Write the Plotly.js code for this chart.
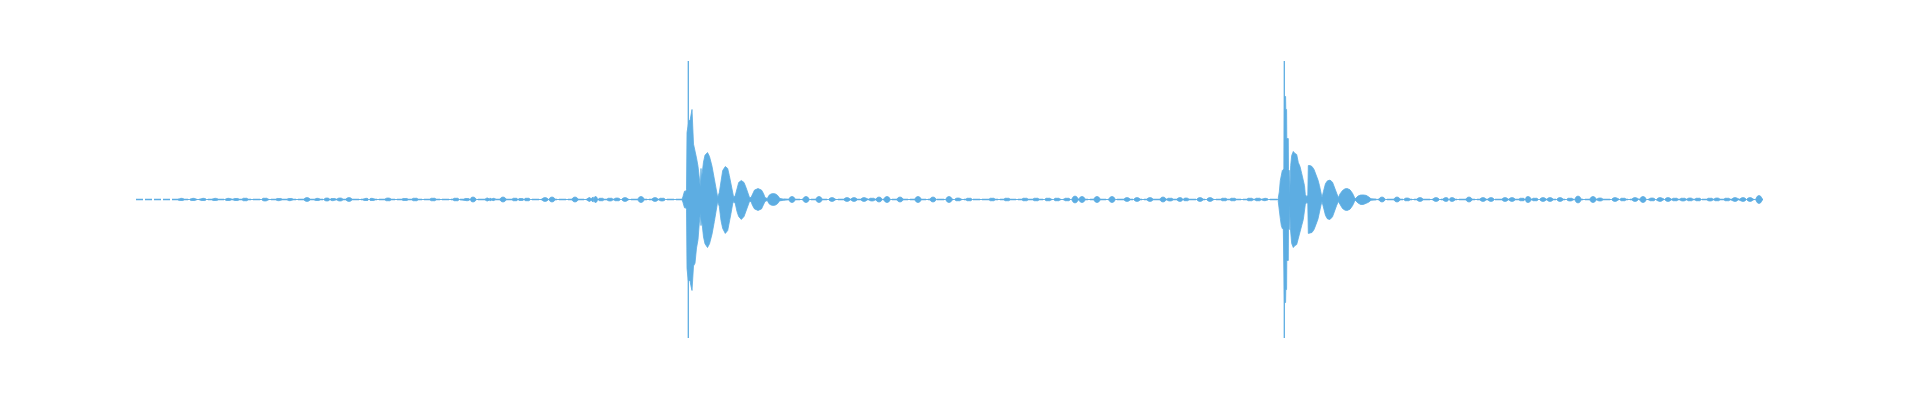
<!DOCTYPE html>
<html>
<head>
<meta charset="utf-8">
<script src="https://cdn.plot.ly/plotly-3.0.1.min.js"></script>
<style>html,body{margin:0;padding:0;background:#fff;}#chart{width:1920px;height:400px;}</style>
</head>
<body>
<div id="chart"></div>
<script>
// Time axis in frames (0 .. clipFrames), amplitude normalised to full scale = 1
const clipFrames = 1627;

// Burst 1 envelope
const burst1Frame = [546, 547, 548.5, 549.7, 550.5, 551, 552.3, 553, 554, 554.8, 556, 557.5, 559, 560.5, 562, 563.3, 564.3, 565, 565.6, 566, 567.5, 569, 571.5, 573.5, 576, 578.3, 580.7, 581.7, 583.3, 585, 586.7, 589.3, 591.7, 593.3, 595, 596.7, 597.7, 599.3, 601, 602.7, 605.3, 608, 610, 612, 613.5, 615, 616.5, 618.5, 622, 625.5, 627.5, 629, 631.3, 633, 635, 637.3, 639.5, 641.5, 643.5, 645];
const burst1Upper = [0, .022, .06, .06, .07, .484, .57, .57, .57, .62, .65, .40, .36, .30, .24, .14, .09, .224, .14, .18, .27, .32, .339, .31, .24, .15, .05, .015, .05, .152, .209, .238, .224, .173, .10, .03, .015, .03, .087, .123, .137, .123, .087, .04, .014, .014, .043, .068, .079, .068, .043, .014, .007, .03, .04, .043, .04, .03, .01, .005];
const burst1Lower = [0, .022, .06, .06, .07, .498, .585, .585, .585, .62, .657, .48, .46, .35, .29, .17, .10, .188, .14, .18, .27, .32, .347, .32, .25, .16, .05, .015, .05, .152, .209, .245, .224, .173, .10, .03, .015, .03, .087, .123, .144, .123, .087, .04, .014, .014, .043, .068, .079, .068, .043, .014, .007, .03, .04, .043, .04, .03, .01, .005];

// Burst 2 envelope
const burst2Frame = [1142, 1143.3, 1144.3, 1145.3, 1146.3, 1147.3, 1148, 1148.5, 1149.6, 1149.8, 1150.6, 1150.8, 1152.3, 1152.5, 1153.3, 1153.7, 1154.3, 1154.7, 1155.7, 1157.3, 1159, 1160.7, 1162.3, 1164, 1165.7, 1167.3, 1168.5, 1169.3, 1170.7, 1171.8, 1172.3, 1174, 1176, 1178, 1180, 1182, 1183.5, 1185, 1186, 1187.5, 1189.5, 1191.5, 1194, 1196.5, 1198.5, 1200.5, 1202.3, 1204, 1206.5, 1209, 1211.3, 1214, 1216.5, 1218.5, 1219.5, 1222, 1224.5, 1227.3, 1230, 1232.5, 1235];
const burst2Upper = [0, .055, .137, .188, .209, .217, .217, .744, .744, .65, .65, .44, .44, .217, .209, .036, .20, .245, .318, .347, .332, .325, .267, .238, .188, .144, .10, .036, .022, .03, .245, .245, .238, .217, .18, .14, .10, .04, .014, .06, .115, .135, .14, .125, .09, .045, .014, .04, .065, .077, .079, .07, .045, .015, .007, .025, .032, .033, .03, .02, .005];
const burst2Lower = [0, .055, .137, .188, .209, .217, .217, .744, .744, .65, .65, .44, .44, .217, .217, .036, .20, .245, .318, .347, .332, .325, .267, .238, .188, .144, .10, .036, .022, .03, .245, .245, .238, .217, .18, .14, .10, .04, .014, .06, .115, .14, .144, .125, .09, .045, .014, .04, .065, .077, .079, .07, .045, .015, .007, .025, .036, .036, .03, .02, .005];

// Transient spikes
const spikeFrame = [552.3, 1148.3];
const spikeAmp = [1.0, 1.0];

// Small bursts of low-level noise in the quiet stretches
const bumpFrame = [45, 57, 67, 79, 92, 100, 109, 129, 143, 154, 171, 181, 191, 197, 204, 213, 230, 236, 252, 269, 279, 297, 320, 331, 337, 352, 357, 367, 379, 385, 391, 409, 416, 439, 454, 459, 465, 474, 481, 489, 505, 519, 526,
  656, 670, 683, 696, 711, 718, 728, 736, 743, 751, 764, 782, 797, 813, 822, 833, 856, 871, 889, 900, 912, 921, 931, 939, 946, 961, 976, 991, 1001, 1014, 1027, 1034, 1044, 1050, 1064, 1074, 1088, 1097, 1114, 1122, 1129,
  1246, 1261, 1271, 1284, 1300, 1310, 1316, 1333, 1347, 1355, 1369, 1376, 1386, 1392, 1399, 1407, 1414, 1424, 1434, 1442, 1457, 1464, 1479, 1487, 1499, 1507, 1516, 1524, 1532, 1539, 1547, 1554, 1562, 1574, 1581, 1591, 1599, 1607, 1614, 1623];
const bumpAmp = [.009, .009, .009, .009, .009, .009, .011, .011, .009, .009, .014, .009, .011, .009, .011, .014, .009, .009, .011, .009, .011, .011, .011, .009, .018, .011, .009, .018, .011, .009, .011, .014, .018, .018, .014, .022, .011, .011, .011, .014, .022, .014, .011,
  .022, .022, .022, .014, .014, .014, .014, .011, .018, .022, .018, .022, .018, .022, .011, .011, .011, .011, .011, .011, .011, .011, .011, .025, .022, .022, .022, .014, .014, .014, .018, .011, .014, .011, .014, .014, .011, .011, .011, .011, .009,
  .018, .018, .011, .014, .014, .014, .014, .018, .014, .014, .014, .014, .011, .022, .011, .014, .014, .014, .011, .025, .022, .011, .014, .011, .014, .022, .011, .014, .014, .011, .011, .011, .011, .011, .011, .011, .014, .014, .014, .029];

const waveColor = '#5DADE2';
const bumpHalfWidth = 3.5;

// Build the envelope polygon from the arrays
const pts = [];
burst1Frame.forEach((f, i) => pts.push([f, burst1Upper[i], burst1Lower[i]]));
burst2Frame.forEach((f, i) => pts.push([f, burst2Upper[i], burst2Lower[i]]));
bumpFrame.forEach((f, i) => {
  const a = bumpAmp[i], w = bumpHalfWidth;
  pts.push([f - w, 0, 0], [f - w / 2, a * 0.8, a * 0.8], [f, a, a], [f + w / 2, a * 0.8, a * 0.8], [f + w, 0, 0]);
});
pts.sort((a, b) => a[0] - b[0]);
const envX = pts.map(p => p[0]).concat(pts.map(p => p[0]).reverse());
const envY = pts.map(p => p[1]).concat(pts.map(p => -p[2]).reverse());

const spikeX = [], spikeY = [];
spikeFrame.forEach((f, i) => { spikeX.push(f, f, null); spikeY.push(spikeAmp[i], -spikeAmp[i], null); });

const traces = [
  {x: [0, clipFrames], y: [0, 0], mode: 'lines', line: {color: waveColor, width: 1.6, dash: '7px,2px'}, hoverinfo: 'skip'},
  {x: envX, y: envY, mode: 'lines', fill: 'toself', fillcolor: waveColor, line: {color: waveColor, width: 0.8}, hoverinfo: 'skip'},
  {x: spikeX, y: spikeY, mode: 'lines', line: {color: waveColor, width: 1.3}, hoverinfo: 'skip'}
];

const layout = {
  width: 1920, height: 400,
  margin: {l: 136, r: 157, t: 61, b: 62},
  paper_bgcolor: '#ffffff', plot_bgcolor: '#ffffff',
  showlegend: false,
  xaxis: {range: [0, clipFrames], visible: false, fixedrange: true},
  yaxis: {range: [-1, 1], visible: false, fixedrange: true}
};

Plotly.newPlot('chart', traces, layout, {displayModeBar: false, staticPlot: true});
</script>
</body>
</html>
